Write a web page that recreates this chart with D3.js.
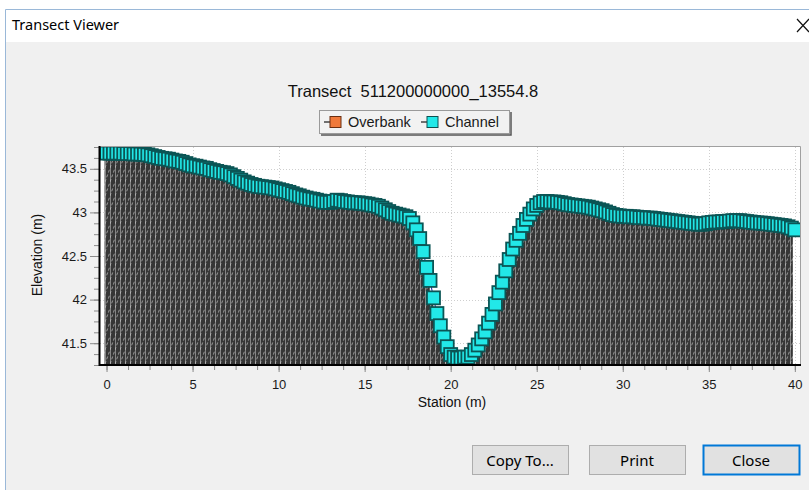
<!DOCTYPE html>
<html>
<head>
<meta charset="utf-8">
<script src="https://cdn.jsdelivr.net/npm/d3@7"></script>
<style>
  body { margin: 0; background: #fff; }
  svg { display: block; font-family: "Liberation Sans", Arial, sans-serif; }
</style>
</head>
<body>
<div id="chart"></div>
<script>
// transect survey, station (m) and ground elevation (m)
const stations = [
  0, 0.2, 0.4, 0.6, 0.8, 1, 1.2, 1.4, 1.6, 1.8,
  2, 2.2, 2.4, 2.6, 2.8, 3, 3.2, 3.4, 3.6, 3.8,
  4, 4.2, 4.4, 4.6, 4.8, 5, 5.2, 5.4, 5.6, 5.8,
  6, 6.2, 6.4, 6.6, 6.8, 7, 7.2, 7.4, 7.6, 7.8,
  8, 8.2, 8.4, 8.6, 8.8, 9, 9.2, 9.4, 9.6, 9.8,
  10, 10.2, 10.4, 10.6, 10.8, 11, 11.2, 11.4, 11.6, 11.8,
  12, 12.2, 12.4, 12.6, 12.8, 13, 13.2, 13.4, 13.6, 13.8,
  14, 14.2, 14.4, 14.6, 14.8, 15, 15.2, 15.4, 15.6, 15.8,
  16, 16.2, 16.4, 16.6, 16.8, 17, 17.2, 17.4, 17.6, 17.8,
  18, 18.2, 18.4, 18.6, 18.8, 19, 19.2, 19.4, 19.6, 19.8,
  20, 20.2, 20.4, 20.6, 20.8, 21, 21.2, 21.4, 21.6, 21.8,
  22, 22.2, 22.4, 22.6, 22.8, 23, 23.2, 23.4, 23.6, 23.8,
  24, 24.2, 24.4, 24.6, 24.8, 25, 25.2, 25.4, 25.6, 25.8,
  26, 26.2, 26.4, 26.6, 26.8, 27, 27.2, 27.4, 27.6, 27.8,
  28, 28.2, 28.4, 28.6, 28.8, 29, 29.2, 29.4, 29.6, 29.8,
  30, 30.2, 30.4, 30.6, 30.8, 31, 31.2, 31.4, 31.6, 31.8,
  32, 32.2, 32.4, 32.6, 32.8, 33, 33.2, 33.4, 33.6, 33.8,
  34, 34.2, 34.4, 34.6, 34.8, 35, 35.2, 35.4, 35.6, 35.8,
  36, 36.2, 36.4, 36.6, 36.8, 37, 37.2, 37.4, 37.6, 37.8,
  38, 38.2, 38.4, 38.6, 38.8, 39, 39.2, 39.4, 39.6, 39.8,
  40
];
const elevations = [
  43.68, 43.68, 43.68, 43.68, 43.68, 43.675, 43.675, 43.675, 43.67, 43.67,
  43.668, 43.665, 43.66, 43.65, 43.64, 43.63, 43.62, 43.615, 43.61, 43.60,
  43.59, 43.585, 43.575, 43.56, 43.545, 43.535, 43.53, 43.52, 43.51, 43.505,
  43.49, 43.48, 43.47, 43.46, 43.455, 43.445, 43.43, 43.41, 43.39, 43.37,
  43.35, 43.335, 43.32, 43.31, 43.30, 43.295, 43.29, 43.285, 43.28, 43.27,
  43.26, 43.25, 43.24, 43.23, 43.215, 43.20, 43.19, 43.175, 43.165, 43.155,
  43.15, 43.14, 43.13, 43.12, 43.115, 43.115, 43.125, 43.14, 43.135, 43.125,
  43.12, 43.115, 43.11, 43.11, 43.105, 43.10, 43.095, 43.085, 43.08, 43.07,
  43.05, 43.03, 43.01, 42.99, 42.98, 42.97, 42.96, 42.95, 42.93, 42.88,
  42.80, 42.70, 42.55, 42.37, 42.22, 42.02, 41.84, 41.70, 41.57, 41.46,
  41.37, 41.34, 41.33, 41.33, 41.34, 41.34, 41.37, 41.42, 41.48, 41.55,
  41.63, 41.73, 41.83, 41.95, 42.08, 42.20, 42.33, 42.46, 42.58, 42.68,
  42.76, 42.85, 42.92, 42.98, 43.04, 43.08, 43.11, 43.125, 43.125, 43.12,
  43.12, 43.115, 43.11, 43.10, 43.09, 43.085, 43.08, 43.075, 43.07, 43.065,
  43.06, 43.05, 43.04, 43.03, 43.02, 43.005, 42.99, 42.975, 42.965, 42.96,
  42.955, 42.955, 42.95, 42.95, 42.945, 42.94, 42.94, 42.935, 42.935, 42.93,
  42.925, 42.92, 42.915, 42.91, 42.905, 42.90, 42.895, 42.89, 42.885, 42.88,
  42.875, 42.87, 42.865, 42.865, 42.87, 42.88, 42.885, 42.89, 42.89, 42.895,
  42.895, 42.90, 42.905, 42.905, 42.905, 42.90, 42.895, 42.89, 42.885, 42.88,
  42.878, 42.875, 42.87, 42.865, 42.86, 42.855, 42.85, 42.845, 42.835, 42.82,
  42.80
];
const xTicks = [0, 5, 10, 15, 20, 25, 30, 35, 40];
const yTicks = [41.5, 42, 42.5, 43, 43.5];
const legendNames = ["Overbank", "Channel"];
const legendColors = ["#f0793a", "#22e8e8"];
const buttonNames = ["Copy To...", "Print", "Close"];
const chartTitle = "Transect  511200000000_13554.8";

const data = stations.map((s, i) => ({ s: s, e: elevations[i] }));

const width = 809, height = 490;
const plot = { left: 100, right: 800, top: 147, bottom: 365 };

const svg = d3.select("#chart").append("svg")
  .attr("width", width)
  .attr("height", height);

// window chrome
svg.append("rect").attr("width", width).attr("height", height).attr("fill", "#fff");
svg.append("rect")
  .attr("x", 6).attr("y", 42)
  .attr("width", width - 6).attr("height", height - 42)
  .attr("fill", "#f0f0f0");
svg.append("path")
  .attr("d", "M5.5,490V9.5H809")
  .attr("fill", "none")
  .attr("stroke", "#9ab8d8");
svg.append("text")
  .attr("x", 12).attr("y", 30)
  .style("font-family", "'Noto Sans', sans-serif")
  .style("font-size", "14.5px")
  .attr("fill", "#000")
  .text("Transect Viewer");
svg.append("path")
  .attr("d", "M797,19L809,32M809,19L797,32")
  .attr("stroke", "#111")
  .attr("stroke-width", 1.2);

var x = d3.scaleLinear()
  .domain([-0.38, 40.3])
  .range([plot.left, plot.right]);

var y = d3.scaleLinear()
  .domain([41.25, 43.75])
  .range([plot.bottom, plot.top]);

// plot background
svg.append("rect")
  .attr("x", plot.left).attr("y", plot.top)
  .attr("width", plot.right - plot.left).attr("height", plot.bottom - plot.top)
  .attr("fill", "#fff");

// hatch pattern for the ground
const defs = svg.append("defs");
const pat = defs.append("pattern")
  .attr("id", "hatch")
  .attr("patternUnits", "userSpaceOnUse")
  .attr("width", 5).attr("height", 14);
pat.append("rect").attr("width", 5).attr("height", 14).attr("fill", "#363636");
pat.append("line")
  .attr("x1", 0.5).attr("y1", 0).attr("x2", 0.5).attr("y2", 14)
  .attr("stroke", "#858585").attr("stroke-width", 1);
pat.append("line")
  .attr("x1", 0).attr("y1", 14).attr("x2", 5).attr("y2", 0)
  .attr("stroke", "#c4c4c4").attr("stroke-width", 0.7)
  .attr("stroke-dasharray", "3,2");

defs.append("clipPath").attr("id", "clip")
  .append("rect")
  .attr("x", plot.left).attr("y", plot.top)
  .attr("width", plot.right - plot.left).attr("height", plot.bottom - plot.top);

// gridlines
const grid = svg.append("g")
  .attr("stroke", "#cfcfcf")
  .attr("stroke-dasharray", "1,2");
grid.selectAll(".vx")
  .data(xTicks.slice(1))
  .enter().append("line")
  .attr("x1", d => Math.round(x(d)) + 0.5).attr("x2", d => Math.round(x(d)) + 0.5)
  .attr("y1", plot.top).attr("y2", plot.bottom);
grid.selectAll(".hy")
  .data(yTicks)
  .enter().append("line")
  .attr("x1", plot.left).attr("x2", plot.right)
  .attr("y1", d => Math.round(y(d)) + 0.5).attr("y2", d => Math.round(y(d)) + 0.5);

const body = svg.append("g").attr("clip-path", "url(#clip)");

// ground fill, drawn as stepped columns
body.append("path")
  .datum(data)
  .attr("fill", "url(#hatch)")
  .attr("d", d3.area()
    .curve(d3.curveStep)
    .x(d => x(d.s) - 2)
    .y0(plot.bottom)
    .y1(d => y(d.e)));

// profile line
body.append("path")
  .datum(data)
  .attr("fill", "none")
  .attr("stroke", "#1c1ca8")
  .attr("stroke-width", 1)
  .attr("d", d3.line().x(d => x(d.s)).y(d => y(d.e)));

// channel markers
const ms = 13;
body.selectAll(".pt")
  .data(data)
  .enter().append("rect")
  .attr("x", d => x(d.s) - ms / 2)
  .attr("y", d => y(d.e) - ms / 2)
  .attr("width", ms).attr("height", ms)
  .attr("fill", legendColors[1])
  .attr("stroke", "#0b5555")
  .attr("stroke-width", 1.8);

// frame
svg.append("path")
  .attr("d", `M${plot.left},${plot.top - 0.5}H${plot.right + 0.5}V${plot.bottom}`)
  .attr("fill", "none")
  .attr("stroke", "#a0a0a0");

// axes
const xMinor = d3.range(0, 40.01, 1.25);
const yMinor = d3.range(41.25, 43.76, 0.125);

svg.append("g")
  .attr("transform", `translate(0,${plot.bottom})`)
  .call(d3.axisBottom(x).tickValues(xMinor).tickSize(5).tickFormat(""))
  .call(g => g.select(".domain").remove())
  .selectAll("line").attr("stroke", "#8a8a8a");

svg.append("g")
  .attr("transform", `translate(0,${plot.bottom})`)
  .call(d3.axisBottom(x).tickValues(xTicks).tickSize(7).tickPadding(8))
  .call(g => g.select(".domain").remove())
  .call(g => g.selectAll("line").attr("stroke", "#8a8a8a"))
  .selectAll("text")
  .style("font-size", "13px")
  .attr("fill", "#1a1a1a");

svg.append("g")
  .attr("transform", `translate(${plot.left - 1},0)`)
  .call(d3.axisLeft(y).tickValues(yMinor).tickSize(5).tickFormat(""))
  .call(g => g.select(".domain").remove())
  .selectAll("line").attr("stroke", "#8a8a8a");

svg.append("g")
  .attr("transform", `translate(${plot.left - 1},0)`)
  .call(d3.axisLeft(y).tickValues(yTicks).tickSize(9).tickPadding(3).tickFormat(d3.format("~g")))
  .call(g => g.select(".domain").remove())
  .call(g => g.selectAll("line").attr("stroke", "#8a8a8a"))
  .selectAll("text")
  .style("font-size", "13px")
  .attr("fill", "#1a1a1a");

// axis lines
svg.append("path")
  .attr("d", `M${plot.left - 0.5},${plot.top - 1}V${plot.bottom}H${plot.right + 1}`)
  .attr("fill", "none")
  .attr("stroke", "#000")
  .attr("stroke-width", 2);

// titles
svg.append("text")
  .attr("x", 413).attr("y", 97)
  .attr("text-anchor", "middle")
  .style("font-size", "16.5px")
  .style("white-space", "pre")
  .attr("fill", "#111")
  .text(chartTitle);

svg.append("text")
  .attr("x", 452).attr("y", 407)
  .attr("text-anchor", "middle")
  .style("font-size", "14px")
  .attr("fill", "#111")
  .text("Station (m)");

svg.append("text")
  .attr("transform", "translate(42,255) rotate(-90)")
  .attr("text-anchor", "middle")
  .style("font-size", "14px")
  .attr("fill", "#111")
  .text("Elevation (m)");

// legend
const lg = svg.append("g");
lg.append("rect")
  .attr("x", 319.5).attr("y", 110.5)
  .attr("width", 190).attr("height", 23)
  .attr("fill", "#f2f2f2")
  .attr("stroke", "#9a9a9a");
lg.append("path")
  .attr("d", "M321,135H511V112")
  .attr("fill", "none")
  .attr("stroke", "#555")
  .attr("stroke-width", 1.5);

const legendX = [330, 427];
const item = lg.selectAll(".item")
  .data(legendNames)
  .enter().append("g")
  .attr("transform", (d, i) => `translate(${legendX[i]},122)`);
item.append("line")
  .attr("x1", -6).attr("x2", 0)
  .attr("stroke", "#444").attr("stroke-width", 1.5);
item.append("rect")
  .attr("x", 0).attr("y", -5.5)
  .attr("width", 11).attr("height", 11)
  .attr("fill", (d, i) => legendColors[i])
  .attr("stroke", (d, i) => i == 0 ? "#6a2e10" : "#0c5050");
item.append("text")
  .attr("x", 18).attr("y", 5)
  .style("font-size", "14.5px")
  .attr("fill", "#1a1a1a")
  .text(d => d);

// buttons
const buttonX = [472, 589, 703];
const btn = svg.selectAll(".btn")
  .data(buttonNames)
  .enter().append("g")
  .attr("transform", (d, i) => `translate(${buttonX[i]},445)`);
btn.append("rect")
  .attr("x", 0.5).attr("y", 0.5)
  .attr("width", 96).attr("height", 29)
  .attr("fill", "#e1e1e1")
  .attr("stroke", (d, i) => i == 2 ? "#0078d7" : "#adadad")
  .attr("stroke-width", (d, i) => i == 2 ? 2 : 1);
btn.append("text")
  .attr("x", 48).attr("y", 21)
  .attr("text-anchor", "middle")
  .style("font-family", "'Noto Sans', sans-serif")
  .style("font-size", "15px")
  .attr("fill", "#000")
  .text(d => d);
</script>
</body>
</html>
